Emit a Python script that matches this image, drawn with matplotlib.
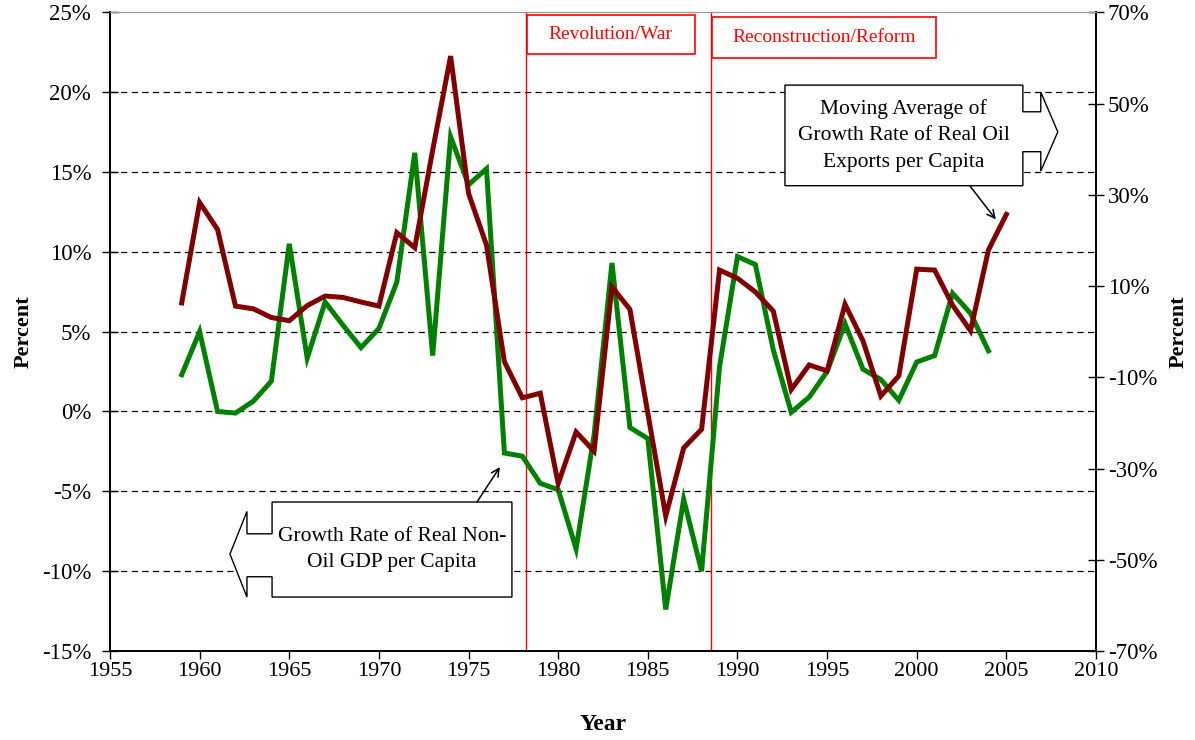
import matplotlib.pyplot as plt
from matplotlib.patches import Polygon, Rectangle

plt.rcParams['font.family'] = ['Liberation Serif', 'DejaVu Serif']

# Growth rate of real non-oil GDP per capita (left axis, %)
gdp_years = list(range(1959, 2005))
gdp_growth = [2.3, 5.0, 0.0, -0.1, 0.65, 1.9, 10.5, 3.35, 6.85, 5.4,
              4.0, 5.2, 8.1, 16.2, 3.5, 17.2, 14.2, 15.2, -2.6, -2.8,
              -4.5, -4.9, -8.6, -1.5, 9.3, -1.0, -1.7, -12.4, -5.5, -10.0,
              2.8, 9.7, 9.2, 3.85, -0.05, 0.9, 2.5, 5.5, 2.65, 2.0,
              0.7, 3.1, 3.5, 7.4, 6.15, 3.8]

# Moving average of growth rate of real oil exports per capita (right axis, %)
oil_years = list(range(1959, 2006))
oil_growth = [6.3, 28.3, 22.4, 5.6, 5.0, 3.1, 2.4, 5.7, 7.8, 7.5,
              6.5, 5.6, 21.7, 18.4, 39.8, 60.4, 30.3, 19.0, -6.6, -14.5,
              -13.5, -33.3, -22.0, -26.2, 9.8, 4.9, -17.9, -40.4, -25.5, -21.4,
              13.5, 11.7, 8.7, 4.5, -12.7, -7.3, -8.6, 6.0, -2.0, -14.1,
              -9.7, 13.7, 13.5, 5.8, 0.2, 17.9, 25.7]

left_ticks = [-15, -10, -5, 0, 5, 10, 15, 20, 25]
right_ticks = [-70, -50, -30, -10, 10, 30, 50, 70]
x_ticks = [1955, 1960, 1965, 1970, 1975, 1980, 1985, 1990, 1995, 2000, 2005, 2010]

period_starts = [1978.2, 1988.55]
period_labels = ['Revolution/War', 'Reconstruction/Reform']


def to_right(v):
    # left-axis percent -> right-axis percent (-15..25 maps to -70..70)
    return (v + 15) * 3.5 - 70


fig = plt.figure(figsize=(11.95, 7.4), dpi=100)
ax = fig.add_axes([110 / 1195, 1 - 651 / 740, 986 / 1195, 638.7 / 740])
ax2 = ax.twinx()

ax.set_xlim(1955, 2010)
ax.set_ylim(-15, 25)
ax2.set_ylim(-70, 70)

# dashed grid at the left-axis ticks
for t in left_ticks[1:-1]:
    ax.axhline(t, color='black', lw=0.9, ls=(0, (5, 3.5)), zorder=1)

ax.plot(gdp_years, gdp_growth, color='#008000', lw=3.6, zorder=3,
        solid_joinstyle='miter')
ax2.plot(oil_years, oil_growth, color='#800000', lw=3.6, zorder=3,
         solid_joinstyle='miter')

# period markers
for xs in period_starts:
    ax.axvline(xs, color='red', lw=1.0, zorder=2)

box_specs = [(1978.25, 1987.63, 22.37, 24.85), (1988.6, 2001.1, 22.15, 24.68)]
for (x0, x1, y0, y1), lab in zip(box_specs, period_labels):
    ax2.add_patch(Rectangle((x0, to_right(y0)), x1 - x0,
                            to_right(y1) - to_right(y0), facecolor='white',
                            edgecolor='red', lw=1.2, zorder=5))
    ax2.text((x0 + x1) / 2, to_right((y0 + y1) / 2), lab, color='red',
             fontsize=14, ha='center', va='center', zorder=6)

# left arrow callout (non-oil GDP)
c1 = [(1964.04, -5.67), (1977.42, -5.67), (1977.42, -11.62), (1964.04, -11.62),
      (1964.04, -10.35), (1962.64, -10.35), (1962.64, -11.62), (1961.69, -8.93),
      (1962.64, -6.26), (1962.64, -7.66), (1964.04, -7.66)]
ax2.add_patch(Polygon([(x, to_right(y)) for x, y in c1], closed=True,
                      facecolor='white', edgecolor='black', lw=1.0, zorder=5))
ax2.text(1970.73, to_right(-8.65), 'Growth Rate of Real Non-\nOil GDP per Capita',
         fontsize=15.5, ha='center', va='center', linespacing=1.5, zorder=6)
ax2.annotate('', xy=(1976.75, to_right(-3.48)), xytext=(1975.47, to_right(-5.67)),
             arrowprops=dict(arrowstyle='->', color='black', lw=1.1,
                             mutation_scale=14, shrinkA=0, shrinkB=0), zorder=6)

# right arrow callout (oil exports)
c2 = [(1992.65, 20.44), (2005.92, 20.44), (2005.92, 18.77), (2006.92, 18.77),
      (2006.92, 20.0), (2007.87, 17.51), (2006.92, 15.06), (2006.92, 16.27),
      (2005.92, 16.27), (2005.92, 14.14), (1992.65, 14.14)]
ax2.add_patch(Polygon([(x, to_right(y)) for x, y in c2], closed=True,
                      facecolor='white', edgecolor='black', lw=1.0, zorder=5))
ax2.text(1999.28, to_right(17.29),
         'Moving Average of\nGrowth Rate of Real Oil\nExports per Capita',
         fontsize=15.5, ha='center', va='center', linespacing=1.55, zorder=6)
ax2.annotate('', xy=(2004.41, to_right(12.03)), xytext=(2002.96, to_right(14.14)),
             arrowprops=dict(arrowstyle='->', color='black', lw=1.1,
                             mutation_scale=14, shrinkA=0, shrinkB=0), zorder=6)

# axes styling
ax.set_xticks(x_ticks)
ax.set_yticks(left_ticks)
ax.set_yticklabels([f'{t}%' for t in left_ticks])
ax2.set_yticks(right_ticks)
ax2.set_yticklabels([f'{t}%' for t in right_ticks])

ax.tick_params(axis='x', direction='out', length=6, width=1, labelsize=16, pad=2)
ax.tick_params(axis='y', direction='inout', length=11, width=1, labelsize=16.5, pad=8)
ax2.tick_params(axis='y', direction='inout', length=11, width=1, labelsize=16.5, pad=3)

for a in (ax, ax2):
    a.spines['top'].set_color('#999999')
    a.spines['left'].set_linewidth(1.2)
    a.spines['right'].set_linewidth(1.2)
    a.spines['bottom'].set_linewidth(1.2)

ax.set_xlabel('Year', fontsize=17, fontweight='bold', labelpad=24)
ax.set_ylabel('Percent', fontsize=16, fontweight='bold', labelpad=6)
ax2.set_ylabel('Percent', fontsize=16, fontweight='bold', rotation=90, labelpad=8)

fig.savefig('out.png', dpi=100)
